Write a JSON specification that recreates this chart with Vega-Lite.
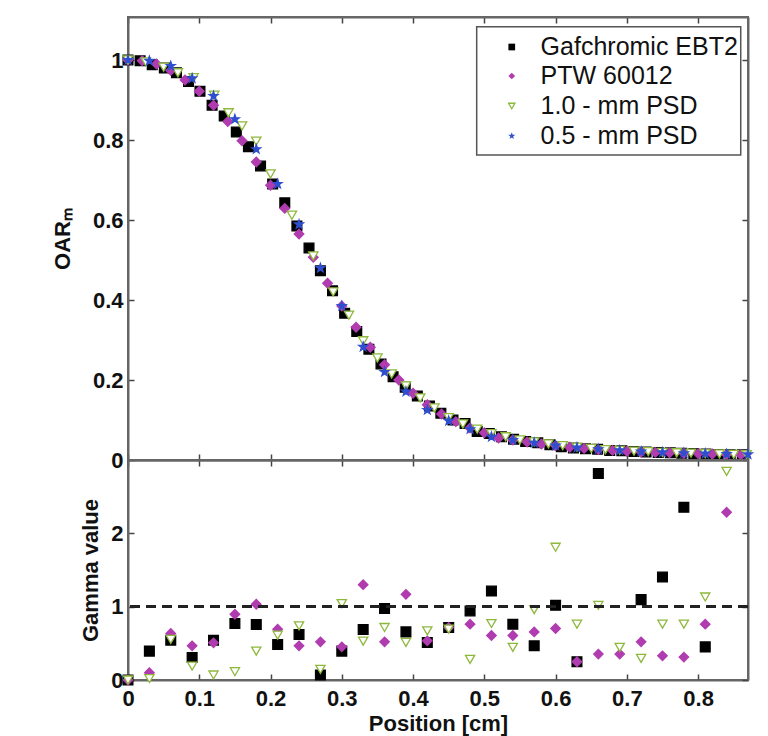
{
  "$schema": "https://vega.github.io/schema/vega-lite/v6.json",
  "background": "white",
  "padding": {"left": 50, "top": 15, "right": 18, "bottom": 2},
  "bounds": "flush",
  "datasets": {
    "oar": [
      {"series": "Gafchromic EBT2", "x": 0.000, "y": 1.000},
      {"series": "Gafchromic EBT2", "x": 0.017, "y": 0.998},
      {"series": "Gafchromic EBT2", "x": 0.034, "y": 0.988},
      {"series": "Gafchromic EBT2", "x": 0.051, "y": 0.980},
      {"series": "Gafchromic EBT2", "x": 0.068, "y": 0.968},
      {"series": "Gafchromic EBT2", "x": 0.085, "y": 0.946},
      {"series": "Gafchromic EBT2", "x": 0.101, "y": 0.922},
      {"series": "Gafchromic EBT2", "x": 0.118, "y": 0.887},
      {"series": "Gafchromic EBT2", "x": 0.135, "y": 0.860},
      {"series": "Gafchromic EBT2", "x": 0.152, "y": 0.820},
      {"series": "Gafchromic EBT2", "x": 0.169, "y": 0.783},
      {"series": "Gafchromic EBT2", "x": 0.186, "y": 0.735},
      {"series": "Gafchromic EBT2", "x": 0.203, "y": 0.690},
      {"series": "Gafchromic EBT2", "x": 0.220, "y": 0.643},
      {"series": "Gafchromic EBT2", "x": 0.237, "y": 0.585},
      {"series": "Gafchromic EBT2", "x": 0.254, "y": 0.530},
      {"series": "Gafchromic EBT2", "x": 0.270, "y": 0.473},
      {"series": "Gafchromic EBT2", "x": 0.287, "y": 0.423},
      {"series": "Gafchromic EBT2", "x": 0.304, "y": 0.367},
      {"series": "Gafchromic EBT2", "x": 0.321, "y": 0.321},
      {"series": "Gafchromic EBT2", "x": 0.338, "y": 0.277},
      {"series": "Gafchromic EBT2", "x": 0.355, "y": 0.240},
      {"series": "Gafchromic EBT2", "x": 0.372, "y": 0.208},
      {"series": "Gafchromic EBT2", "x": 0.389, "y": 0.182},
      {"series": "Gafchromic EBT2", "x": 0.406, "y": 0.160},
      {"series": "Gafchromic EBT2", "x": 0.423, "y": 0.135},
      {"series": "Gafchromic EBT2", "x": 0.439, "y": 0.117},
      {"series": "Gafchromic EBT2", "x": 0.456, "y": 0.100},
      {"series": "Gafchromic EBT2", "x": 0.473, "y": 0.091},
      {"series": "Gafchromic EBT2", "x": 0.490, "y": 0.071},
      {"series": "Gafchromic EBT2", "x": 0.507, "y": 0.066},
      {"series": "Gafchromic EBT2", "x": 0.524, "y": 0.058},
      {"series": "Gafchromic EBT2", "x": 0.541, "y": 0.052},
      {"series": "Gafchromic EBT2", "x": 0.558, "y": 0.046},
      {"series": "Gafchromic EBT2", "x": 0.575, "y": 0.043},
      {"series": "Gafchromic EBT2", "x": 0.592, "y": 0.038},
      {"series": "Gafchromic EBT2", "x": 0.608, "y": 0.033},
      {"series": "Gafchromic EBT2", "x": 0.625, "y": 0.030},
      {"series": "Gafchromic EBT2", "x": 0.642, "y": 0.028},
      {"series": "Gafchromic EBT2", "x": 0.659, "y": 0.027},
      {"series": "Gafchromic EBT2", "x": 0.676, "y": 0.024},
      {"series": "Gafchromic EBT2", "x": 0.693, "y": 0.023},
      {"series": "Gafchromic EBT2", "x": 0.710, "y": 0.021},
      {"series": "Gafchromic EBT2", "x": 0.727, "y": 0.020},
      {"series": "Gafchromic EBT2", "x": 0.744, "y": 0.019},
      {"series": "Gafchromic EBT2", "x": 0.761, "y": 0.018},
      {"series": "Gafchromic EBT2", "x": 0.777, "y": 0.017},
      {"series": "Gafchromic EBT2", "x": 0.794, "y": 0.016},
      {"series": "Gafchromic EBT2", "x": 0.811, "y": 0.015},
      {"series": "Gafchromic EBT2", "x": 0.828, "y": 0.014},
      {"series": "Gafchromic EBT2", "x": 0.845, "y": 0.013},
      {"series": "Gafchromic EBT2", "x": 0.862, "y": 0.013},
      {"series": "PTW 60012", "x": 0.00, "y": 1.000},
      {"series": "PTW 60012", "x": 0.02, "y": 0.998},
      {"series": "PTW 60012", "x": 0.04, "y": 0.990},
      {"series": "PTW 60012", "x": 0.06, "y": 0.974},
      {"series": "PTW 60012", "x": 0.08, "y": 0.950},
      {"series": "PTW 60012", "x": 0.10, "y": 0.922},
      {"series": "PTW 60012", "x": 0.12, "y": 0.887},
      {"series": "PTW 60012", "x": 0.14, "y": 0.846},
      {"series": "PTW 60012", "x": 0.16, "y": 0.798},
      {"series": "PTW 60012", "x": 0.18, "y": 0.745},
      {"series": "PTW 60012", "x": 0.20, "y": 0.687},
      {"series": "PTW 60012", "x": 0.22, "y": 0.629},
      {"series": "PTW 60012", "x": 0.24, "y": 0.565},
      {"series": "PTW 60012", "x": 0.26, "y": 0.507},
      {"series": "PTW 60012", "x": 0.28, "y": 0.442},
      {"series": "PTW 60012", "x": 0.30, "y": 0.385},
      {"series": "PTW 60012", "x": 0.32, "y": 0.332},
      {"series": "PTW 60012", "x": 0.34, "y": 0.282},
      {"series": "PTW 60012", "x": 0.36, "y": 0.238},
      {"series": "PTW 60012", "x": 0.38, "y": 0.200},
      {"series": "PTW 60012", "x": 0.40, "y": 0.167},
      {"series": "PTW 60012", "x": 0.42, "y": 0.138},
      {"series": "PTW 60012", "x": 0.44, "y": 0.115},
      {"series": "PTW 60012", "x": 0.46, "y": 0.096},
      {"series": "PTW 60012", "x": 0.48, "y": 0.080},
      {"series": "PTW 60012", "x": 0.50, "y": 0.068},
      {"series": "PTW 60012", "x": 0.52, "y": 0.055},
      {"series": "PTW 60012", "x": 0.54, "y": 0.050},
      {"series": "PTW 60012", "x": 0.56, "y": 0.045},
      {"series": "PTW 60012", "x": 0.58, "y": 0.040},
      {"series": "PTW 60012", "x": 0.60, "y": 0.036},
      {"series": "PTW 60012", "x": 0.62, "y": 0.032},
      {"series": "PTW 60012", "x": 0.64, "y": 0.029},
      {"series": "PTW 60012", "x": 0.66, "y": 0.026},
      {"series": "PTW 60012", "x": 0.68, "y": 0.024},
      {"series": "PTW 60012", "x": 0.70, "y": 0.022},
      {"series": "PTW 60012", "x": 0.72, "y": 0.020},
      {"series": "PTW 60012", "x": 0.74, "y": 0.019},
      {"series": "PTW 60012", "x": 0.76, "y": 0.018},
      {"series": "PTW 60012", "x": 0.78, "y": 0.017},
      {"series": "PTW 60012", "x": 0.80, "y": 0.016},
      {"series": "PTW 60012", "x": 0.82, "y": 0.015},
      {"series": "PTW 60012", "x": 0.84, "y": 0.014},
      {"series": "PTW 60012", "x": 0.86, "y": 0.013},
      {"series": "1.0 - mm PSD", "x": 0.000, "y": 1.000},
      {"series": "1.0 - mm PSD", "x": 0.025, "y": 0.995},
      {"series": "1.0 - mm PSD", "x": 0.050, "y": 0.982},
      {"series": "1.0 - mm PSD", "x": 0.070, "y": 0.968},
      {"series": "1.0 - mm PSD", "x": 0.092, "y": 0.956},
      {"series": "1.0 - mm PSD", "x": 0.121, "y": 0.912},
      {"series": "1.0 - mm PSD", "x": 0.141, "y": 0.868},
      {"series": "1.0 - mm PSD", "x": 0.160, "y": 0.835},
      {"series": "1.0 - mm PSD", "x": 0.180, "y": 0.797},
      {"series": "1.0 - mm PSD", "x": 0.200, "y": 0.715},
      {"series": "1.0 - mm PSD", "x": 0.230, "y": 0.612},
      {"series": "1.0 - mm PSD", "x": 0.260, "y": 0.510},
      {"series": "1.0 - mm PSD", "x": 0.288, "y": 0.420},
      {"series": "1.0 - mm PSD", "x": 0.310, "y": 0.362},
      {"series": "1.0 - mm PSD", "x": 0.330, "y": 0.298},
      {"series": "1.0 - mm PSD", "x": 0.350, "y": 0.255},
      {"series": "1.0 - mm PSD", "x": 0.370, "y": 0.215},
      {"series": "1.0 - mm PSD", "x": 0.390, "y": 0.185},
      {"series": "1.0 - mm PSD", "x": 0.410, "y": 0.155},
      {"series": "1.0 - mm PSD", "x": 0.430, "y": 0.130},
      {"series": "1.0 - mm PSD", "x": 0.450, "y": 0.106},
      {"series": "1.0 - mm PSD", "x": 0.470, "y": 0.090},
      {"series": "1.0 - mm PSD", "x": 0.490, "y": 0.077},
      {"series": "1.0 - mm PSD", "x": 0.510, "y": 0.066},
      {"series": "1.0 - mm PSD", "x": 0.530, "y": 0.058},
      {"series": "1.0 - mm PSD", "x": 0.550, "y": 0.050},
      {"series": "1.0 - mm PSD", "x": 0.570, "y": 0.045},
      {"series": "1.0 - mm PSD", "x": 0.590, "y": 0.040},
      {"series": "1.0 - mm PSD", "x": 0.610, "y": 0.036},
      {"series": "1.0 - mm PSD", "x": 0.630, "y": 0.032},
      {"series": "1.0 - mm PSD", "x": 0.650, "y": 0.029},
      {"series": "1.0 - mm PSD", "x": 0.670, "y": 0.026},
      {"series": "1.0 - mm PSD", "x": 0.690, "y": 0.024},
      {"series": "1.0 - mm PSD", "x": 0.710, "y": 0.022},
      {"series": "1.0 - mm PSD", "x": 0.730, "y": 0.021},
      {"series": "1.0 - mm PSD", "x": 0.750, "y": 0.019},
      {"series": "1.0 - mm PSD", "x": 0.770, "y": 0.018},
      {"series": "1.0 - mm PSD", "x": 0.790, "y": 0.017},
      {"series": "1.0 - mm PSD", "x": 0.810, "y": 0.016},
      {"series": "1.0 - mm PSD", "x": 0.830, "y": 0.015},
      {"series": "1.0 - mm PSD", "x": 0.850, "y": 0.014},
      {"series": "1.0 - mm PSD", "x": 0.868, "y": 0.013},
      {"series": "0.5 - mm PSD", "x": 0.00, "y": 1.000},
      {"series": "0.5 - mm PSD", "x": 0.03, "y": 0.998},
      {"series": "0.5 - mm PSD", "x": 0.06, "y": 0.985},
      {"series": "0.5 - mm PSD", "x": 0.09, "y": 0.954},
      {"series": "0.5 - mm PSD", "x": 0.12, "y": 0.910},
      {"series": "0.5 - mm PSD", "x": 0.15, "y": 0.852},
      {"series": "0.5 - mm PSD", "x": 0.18, "y": 0.777},
      {"series": "0.5 - mm PSD", "x": 0.21, "y": 0.690},
      {"series": "0.5 - mm PSD", "x": 0.24, "y": 0.589},
      {"series": "0.5 - mm PSD", "x": 0.27, "y": 0.480},
      {"series": "0.5 - mm PSD", "x": 0.30, "y": 0.385},
      {"series": "0.5 - mm PSD", "x": 0.33, "y": 0.283},
      {"series": "0.5 - mm PSD", "x": 0.36, "y": 0.220},
      {"series": "0.5 - mm PSD", "x": 0.39, "y": 0.171},
      {"series": "0.5 - mm PSD", "x": 0.42, "y": 0.125},
      {"series": "0.5 - mm PSD", "x": 0.45, "y": 0.098},
      {"series": "0.5 - mm PSD", "x": 0.48, "y": 0.077},
      {"series": "0.5 - mm PSD", "x": 0.51, "y": 0.058},
      {"series": "0.5 - mm PSD", "x": 0.54, "y": 0.050},
      {"series": "0.5 - mm PSD", "x": 0.57, "y": 0.043},
      {"series": "0.5 - mm PSD", "x": 0.60, "y": 0.036},
      {"series": "0.5 - mm PSD", "x": 0.63, "y": 0.031},
      {"series": "0.5 - mm PSD", "x": 0.66, "y": 0.027},
      {"series": "0.5 - mm PSD", "x": 0.69, "y": 0.024},
      {"series": "0.5 - mm PSD", "x": 0.72, "y": 0.021},
      {"series": "0.5 - mm PSD", "x": 0.75, "y": 0.019},
      {"series": "0.5 - mm PSD", "x": 0.78, "y": 0.017},
      {"series": "0.5 - mm PSD", "x": 0.81, "y": 0.016},
      {"series": "0.5 - mm PSD", "x": 0.84, "y": 0.015},
      {"series": "0.5 - mm PSD", "x": 0.87, "y": 0.014}
    ],
    "gamma": [
      {"series": "Gafchromic EBT2", "x": 0.00, "g": 0.0},
      {"series": "Gafchromic EBT2", "x": 0.03, "g": 0.394},
      {"series": "Gafchromic EBT2", "x": 0.06, "g": 0.543},
      {"series": "Gafchromic EBT2", "x": 0.09, "g": 0.308},
      {"series": "Gafchromic EBT2", "x": 0.12, "g": 0.543},
      {"series": "Gafchromic EBT2", "x": 0.15, "g": 0.770},
      {"series": "Gafchromic EBT2", "x": 0.18, "g": 0.756},
      {"series": "Gafchromic EBT2", "x": 0.21, "g": 0.485},
      {"series": "Gafchromic EBT2", "x": 0.24, "g": 0.620},
      {"series": "Gafchromic EBT2", "x": 0.27, "g": 0.068},
      {"series": "Gafchromic EBT2", "x": 0.30, "g": 0.394},
      {"series": "Gafchromic EBT2", "x": 0.33, "g": 0.688},
      {"series": "Gafchromic EBT2", "x": 0.36, "g": 0.974},
      {"series": "Gafchromic EBT2", "x": 0.39, "g": 0.656},
      {"series": "Gafchromic EBT2", "x": 0.42, "g": 0.512},
      {"series": "Gafchromic EBT2", "x": 0.45, "g": 0.716},
      {"series": "Gafchromic EBT2", "x": 0.48, "g": 0.942},
      {"series": "Gafchromic EBT2", "x": 0.51, "g": 1.213},
      {"series": "Gafchromic EBT2", "x": 0.54, "g": 0.761},
      {"series": "Gafchromic EBT2", "x": 0.57, "g": 0.466},
      {"series": "Gafchromic EBT2", "x": 0.60, "g": 1.019},
      {"series": "Gafchromic EBT2", "x": 0.63, "g": 0.249},
      {"series": "Gafchromic EBT2", "x": 0.66, "g": 2.817},
      {"series": "Gafchromic EBT2", "x": 0.72, "g": 1.096},
      {"series": "Gafchromic EBT2", "x": 0.75, "g": 1.404},
      {"series": "Gafchromic EBT2", "x": 0.78, "g": 2.355},
      {"series": "Gafchromic EBT2", "x": 0.81, "g": 0.452},
      {"series": "PTW 60012", "x": 0.00, "g": 0.0},
      {"series": "PTW 60012", "x": 0.03, "g": 0.100},
      {"series": "PTW 60012", "x": 0.06, "g": 0.634},
      {"series": "PTW 60012", "x": 0.09, "g": 0.466},
      {"series": "PTW 60012", "x": 0.12, "g": 0.507},
      {"series": "PTW 60012", "x": 0.15, "g": 0.897},
      {"series": "PTW 60012", "x": 0.18, "g": 1.033},
      {"series": "PTW 60012", "x": 0.21, "g": 0.693},
      {"series": "PTW 60012", "x": 0.24, "g": 0.466},
      {"series": "PTW 60012", "x": 0.27, "g": 0.520},
      {"series": "PTW 60012", "x": 0.30, "g": 0.452},
      {"series": "PTW 60012", "x": 0.33, "g": 1.300},
      {"series": "PTW 60012", "x": 0.36, "g": 0.520},
      {"series": "PTW 60012", "x": 0.39, "g": 1.168},
      {"series": "PTW 60012", "x": 0.42, "g": 0.534},
      {"series": "PTW 60012", "x": 0.45, "g": 0.716},
      {"series": "PTW 60012", "x": 0.48, "g": 0.761},
      {"series": "PTW 60012", "x": 0.51, "g": 0.607},
      {"series": "PTW 60012", "x": 0.54, "g": 0.607},
      {"series": "PTW 60012", "x": 0.57, "g": 0.656},
      {"series": "PTW 60012", "x": 0.60, "g": 0.702},
      {"series": "PTW 60012", "x": 0.63, "g": 0.249},
      {"series": "PTW 60012", "x": 0.66, "g": 0.353},
      {"series": "PTW 60012", "x": 0.69, "g": 0.353},
      {"series": "PTW 60012", "x": 0.72, "g": 0.520},
      {"series": "PTW 60012", "x": 0.75, "g": 0.330},
      {"series": "PTW 60012", "x": 0.78, "g": 0.312},
      {"series": "PTW 60012", "x": 0.81, "g": 0.761},
      {"series": "PTW 60012", "x": 0.84, "g": 2.287},
      {"series": "1.0 - mm PSD", "x": 0.00, "g": 0.0},
      {"series": "1.0 - mm PSD", "x": 0.03, "g": 0.020},
      {"series": "1.0 - mm PSD", "x": 0.06, "g": 0.553},
      {"series": "1.0 - mm PSD", "x": 0.09, "g": 0.190},
      {"series": "1.0 - mm PSD", "x": 0.12, "g": 0.068},
      {"series": "1.0 - mm PSD", "x": 0.15, "g": 0.113},
      {"series": "1.0 - mm PSD", "x": 0.18, "g": 0.394},
      {"series": "1.0 - mm PSD", "x": 0.21, "g": 0.611},
      {"series": "1.0 - mm PSD", "x": 0.24, "g": 0.738},
      {"series": "1.0 - mm PSD", "x": 0.27, "g": 0.145},
      {"series": "1.0 - mm PSD", "x": 0.30, "g": 1.042},
      {"series": "1.0 - mm PSD", "x": 0.33, "g": 0.530},
      {"series": "1.0 - mm PSD", "x": 0.36, "g": 0.716},
      {"series": "1.0 - mm PSD", "x": 0.39, "g": 0.512},
      {"series": "1.0 - mm PSD", "x": 0.42, "g": 0.670},
      {"series": "1.0 - mm PSD", "x": 0.45, "g": 0.693},
      {"series": "1.0 - mm PSD", "x": 0.48, "g": 0.281},
      {"series": "1.0 - mm PSD", "x": 0.51, "g": 0.770},
      {"series": "1.0 - mm PSD", "x": 0.54, "g": 0.444},
      {"series": "1.0 - mm PSD", "x": 0.57, "g": 0.960},
      {"series": "1.0 - mm PSD", "x": 0.60, "g": 1.810},
      {"series": "1.0 - mm PSD", "x": 0.63, "g": 0.761},
      {"series": "1.0 - mm PSD", "x": 0.66, "g": 1.019},
      {"series": "1.0 - mm PSD", "x": 0.69, "g": 0.444},
      {"series": "1.0 - mm PSD", "x": 0.72, "g": 0.294},
      {"series": "1.0 - mm PSD", "x": 0.75, "g": 0.761},
      {"series": "1.0 - mm PSD", "x": 0.78, "g": 0.761},
      {"series": "1.0 - mm PSD", "x": 0.81, "g": 1.132},
      {"series": "1.0 - mm PSD", "x": 0.84, "g": 2.844}
    ]
  },
  "spacing": 0,
  "resolve": {"scale": {"shape": "independent", "fill": "independent", "stroke": "independent", "size": "independent"}},
  "vconcat": [
    {
      "width": 620,
      "height": 443,
      "data": {"name": "oar"},
      "resolve": {"axis": {"x": "independent", "y": "independent"}},
      "layer": [
        {
          "mark": {"type": "point", "filled": true, "strokeWidth": 1.3, "opacity": 1},
          "encoding": {
            "x": {"field": "x", "type": "quantitative", "scale": {"domain": [0, 0.87], "nice": false, "zero": false},
                  "axis": {"orient": "bottom", "labels": false, "title": null, "values": [0, 0.1, 0.2, 0.3, 0.4, 0.5, 0.6, 0.7, 0.8]}},
            "y": {"field": "y", "type": "quantitative", "scale": {"domain": [0, 1.1075], "nice": false},
                  "axis": {"values": [0, 0.2, 0.4, 0.6, 0.8, 1], "format": "~g", "title": "OARₘ", "titlePadding": 18, "labelPadding": 11}},
            "shape": {"field": "series", "type": "nominal",
                      "scale": {"domain": ["Gafchromic EBT2", "PTW 60012", "1.0 - mm PSD", "0.5 - mm PSD"],
                                "range": ["square", "diamond", "triangle-down", "M0,-1L0.235,-0.324L0.951,-0.309L0.380,0.124L0.588,0.809L0,0.4L-0.588,0.809L-0.380,0.124L-0.951,-0.309L-0.235,-0.324Z"]},
                      "legend": null},
            "fill": {"field": "series", "type": "nominal",
                     "scale": {"domain": ["Gafchromic EBT2", "PTW 60012", "1.0 - mm PSD", "0.5 - mm PSD"],
                               "range": ["#000000", "#b03cb0", "#ffffff", "#2f4fcf"]},
                     "legend": null},
            "stroke": {"field": "series", "type": "nominal",
                       "scale": {"domain": ["Gafchromic EBT2", "PTW 60012", "1.0 - mm PSD", "0.5 - mm PSD"],
                                 "range": ["#000000", "#b03cb0", "#8db83c", "#2f4fcf"]},
                       "legend": null},
            "size": {"field": "series", "type": "nominal",
                     "scale": {"domain": ["Gafchromic EBT2", "PTW 60012", "1.0 - mm PSD", "0.5 - mm PSD"],
                               "range": [95, 85, 75, 110]},
                     "legend": null}
          }
        },
        {
          "mark": {"type": "point", "opacity": 0},
          "encoding": {
            "x": {"field": "x", "type": "quantitative",
                  "axis": {"orient": "top", "labels": false, "title": null, "values": [0, 0.1, 0.2, 0.3, 0.4, 0.5, 0.6, 0.7, 0.8]}},
            "y": {"field": "y", "type": "quantitative",
                  "axis": {"orient": "right", "labels": false, "title": null, "values": [0, 0.2, 0.4, 0.6, 0.8, 1]}}
          }
        },
        {
          "data": {"values": [{}]},
          "mark": {"type": "rect", "fill": "white", "stroke": "#555", "strokeWidth": 1.5},
          "encoding": {
            "x": {"datum": 0.4893, "type": "quantitative", "axis": null},
            "x2": {"datum": 0.8598},
            "y": {"datum": 1.083, "type": "quantitative", "axis": null},
            "y2": {"datum": 0.7625}
          }
        },
        {
          "data": {"values": [{}]},
          "mark": {"type": "point", "shape": "square", "filled": true, "color": "#000000", "size": 45, "opacity": 1},
          "encoding": {"x": {"datum": 0.5385, "type": "quantitative", "axis": null}, "y": {"datum": 1.0325, "type": "quantitative", "axis": null}}
        },
        {
          "data": {"values": [{}]},
          "mark": {"type": "point", "shape": "diamond", "filled": true, "color": "#b03cb0", "size": 45, "opacity": 1},
          "encoding": {"x": {"datum": 0.5385, "type": "quantitative", "axis": null}, "y": {"datum": 0.96, "type": "quantitative", "axis": null}}
        },
        {
          "data": {"values": [{}]},
          "mark": {"type": "point", "shape": "triangle-down", "filled": false, "stroke": "#8db83c", "strokeWidth": 1.3, "size": 40, "opacity": 1},
          "encoding": {"x": {"datum": 0.5385, "type": "quantitative", "axis": null}, "y": {"datum": 0.885, "type": "quantitative", "axis": null}}
        },
        {
          "data": {"values": [{}]},
          "mark": {"type": "point", "shape": "M0,-1L0.235,-0.324L0.951,-0.309L0.380,0.124L0.588,0.809L0,0.4L-0.588,0.809L-0.380,0.124L-0.951,-0.309L-0.235,-0.324Z", "filled": true, "color": "#2f4fcf", "size": 55, "opacity": 1},
          "encoding": {"x": {"datum": 0.5385, "type": "quantitative", "axis": null}, "y": {"datum": 0.81, "type": "quantitative", "axis": null}}
        },
        {
          "data": {"values": [{}]},
          "mark": {"type": "text", "text": "Gafchromic EBT2", "align": "left", "baseline": "middle", "font": "Liberation Sans", "fontSize": 25, "color": "#111"},
          "encoding": {"x": {"datum": 0.579, "type": "quantitative", "axis": null}, "y": {"datum": 1.0325, "type": "quantitative", "axis": null}}
        },
        {
          "data": {"values": [{}]},
          "mark": {"type": "text", "text": "PTW 60012", "align": "left", "baseline": "middle", "font": "Liberation Sans", "fontSize": 25, "color": "#111"},
          "encoding": {"x": {"datum": 0.579, "type": "quantitative", "axis": null}, "y": {"datum": 0.96, "type": "quantitative", "axis": null}}
        },
        {
          "data": {"values": [{}]},
          "mark": {"type": "text", "text": "1.0 - mm PSD", "align": "left", "baseline": "middle", "font": "Liberation Sans", "fontSize": 25, "color": "#111"},
          "encoding": {"x": {"datum": 0.579, "type": "quantitative", "axis": null}, "y": {"datum": 0.885, "type": "quantitative", "axis": null}}
        },
        {
          "data": {"values": [{}]},
          "mark": {"type": "text", "text": "0.5 - mm PSD", "align": "left", "baseline": "middle", "font": "Liberation Sans", "fontSize": 25, "color": "#111"},
          "encoding": {"x": {"datum": 0.579, "type": "quantitative", "axis": null}, "y": {"datum": 0.81, "type": "quantitative", "axis": null}}
        }
      ]
    },
    {
      "width": 620,
      "height": 220,
      "data": {"name": "gamma"},
      "resolve": {"axis": {"x": "independent", "y": "independent"}},
      "layer": [
        {
          "mark": {"type": "point", "filled": true, "strokeWidth": 1.3, "opacity": 1},
          "encoding": {
            "x": {"field": "x", "type": "quantitative", "scale": {"domain": [0, 0.87], "nice": false, "zero": false},
                  "axis": {"orient": "bottom", "title": "Position [cm]", "format": "~g", "values": [0, 0.1, 0.2, 0.3, 0.4, 0.5, 0.6, 0.7, 0.8], "titlePadding": 4, "labelPadding": 14}},
            "y": {"field": "g", "type": "quantitative", "scale": {"domain": [0, 3], "nice": false},
                  "axis": {"orient": "left", "values": [0, 1, 2], "format": "~g", "title": "Gamma value", "titlePadding": 8, "labelPadding": 11}},
            "shape": {"field": "series", "type": "nominal",
                      "scale": {"domain": ["Gafchromic EBT2", "PTW 60012", "1.0 - mm PSD"],
                                "range": ["square", "diamond", "triangle-down"]},
                      "legend": null},
            "fill": {"field": "series", "type": "nominal",
                     "scale": {"domain": ["Gafchromic EBT2", "PTW 60012", "1.0 - mm PSD"],
                               "range": ["#000000", "#b03cb0", "#ffffff"]},
                     "legend": null},
            "stroke": {"field": "series", "type": "nominal",
                       "scale": {"domain": ["Gafchromic EBT2", "PTW 60012", "1.0 - mm PSD"],
                                 "range": ["#000000", "#b03cb0", "#8db83c"]},
                       "legend": null},
            "size": {"field": "series", "type": "nominal",
                     "scale": {"domain": ["Gafchromic EBT2", "PTW 60012", "1.0 - mm PSD"],
                               "range": [95, 85, 75]},
                     "legend": null}
          }
        },
        {
          "mark": {"type": "point", "opacity": 0},
          "encoding": {
            "x": {"field": "x", "type": "quantitative",
                  "axis": {"orient": "top", "labels": false, "title": null, "values": [0, 0.1, 0.2, 0.3, 0.4, 0.5, 0.6, 0.7, 0.8]}},
            "y": {"field": "g", "type": "quantitative",
                  "axis": {"orient": "right", "labels": false, "title": null, "values": [0, 1, 2]}}
          }
        },
        {
          "mark": {"type": "rule", "color": "#222", "strokeWidth": 2, "strokeDash": [10, 6]},
          "encoding": {"y": {"datum": 1, "type": "quantitative", "axis": null}}
        }
      ]
    }
  ],
  "config": {
    "font": "Liberation Sans",
    "view": {"stroke": "#666", "strokeWidth": 2},
    "axis": {
      "labelFont": "Liberation Sans", "labelFontSize": 22, "labelFontWeight": "bold", "labelColor": "#111",
      "titleFont": "Liberation Sans", "titleFontSize": 22, "titleFontWeight": "bold", "titleColor": "#111",
      "domainColor": "#666", "domainWidth": 2, "tickColor": "#444", "tickWidth": 1.5, "tickSize": -6,
      "labelPadding": 10, "grid": false, "labelFlush": false, "labelOverlap": false
    }
  }
}
